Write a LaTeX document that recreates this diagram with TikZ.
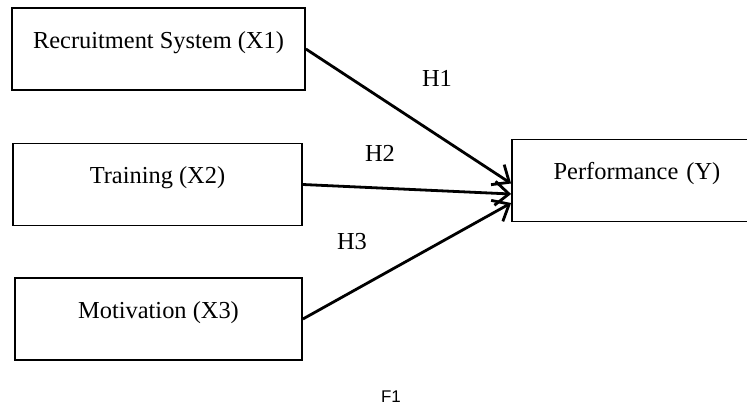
\documentclass[tikz,border=0pt]{standalone}
\usepackage{fontspec}
\setmainfont{Liberation Serif}
\newfontfamily\figsans{Liberation Sans}
\usetikzlibrary{arrows.meta}
\tikzset{
  varbox/.style={draw, line width=1.8bp, inner sep=0pt, minimum height=82bp,
    text height=17bp, text depth=19bp, font=\fontsize{24.5}{28}\selectfont},
  hyp/.style={font=\fontsize{24.5}{28}\selectfont},
  path/.style={line width=2.8bp, -{Straight Barb[length=14bp,width=24bp,line width=2.8bp]}}
}
\begin{document}
\begin{tikzpicture}[x=1bp,y=-1bp]
\useasboundingbox (0,0) rectangle (747,410);
\node[varbox, minimum width=293bp] (x1) at (158.5,49) {Recruitment System (X1)};
\node[varbox, minimum width=289bp] (x2) at (157.5,184.5) {Training (X2)};
\node[varbox, minimum width=287bp] (x3) at (158.5,319) {Motivation (X3)};
\node[varbox, minimum width=250bp, text width=221bp, align=center] (y) at (637,180.5) {Performance (Y)};

\draw[path] (x1.east) -- ([yshift=-3bp]y.west);
\draw[path] (x2.east) -- ([yshift=-13.5bp]y.west);
\draw[path] (x3.east) -- ([yshift=-22.5bp]y.west);

\node[hyp] (h1) at (437,78) {H1};
\node[hyp] (h2) at (380,153) {H2};
\node[hyp] (h3) at (352,242) {H3};

\node[font=\figsans\fontsize{17}{20}\selectfont] (f1) at (391,397) {F1};
\end{tikzpicture}
\end{document}
